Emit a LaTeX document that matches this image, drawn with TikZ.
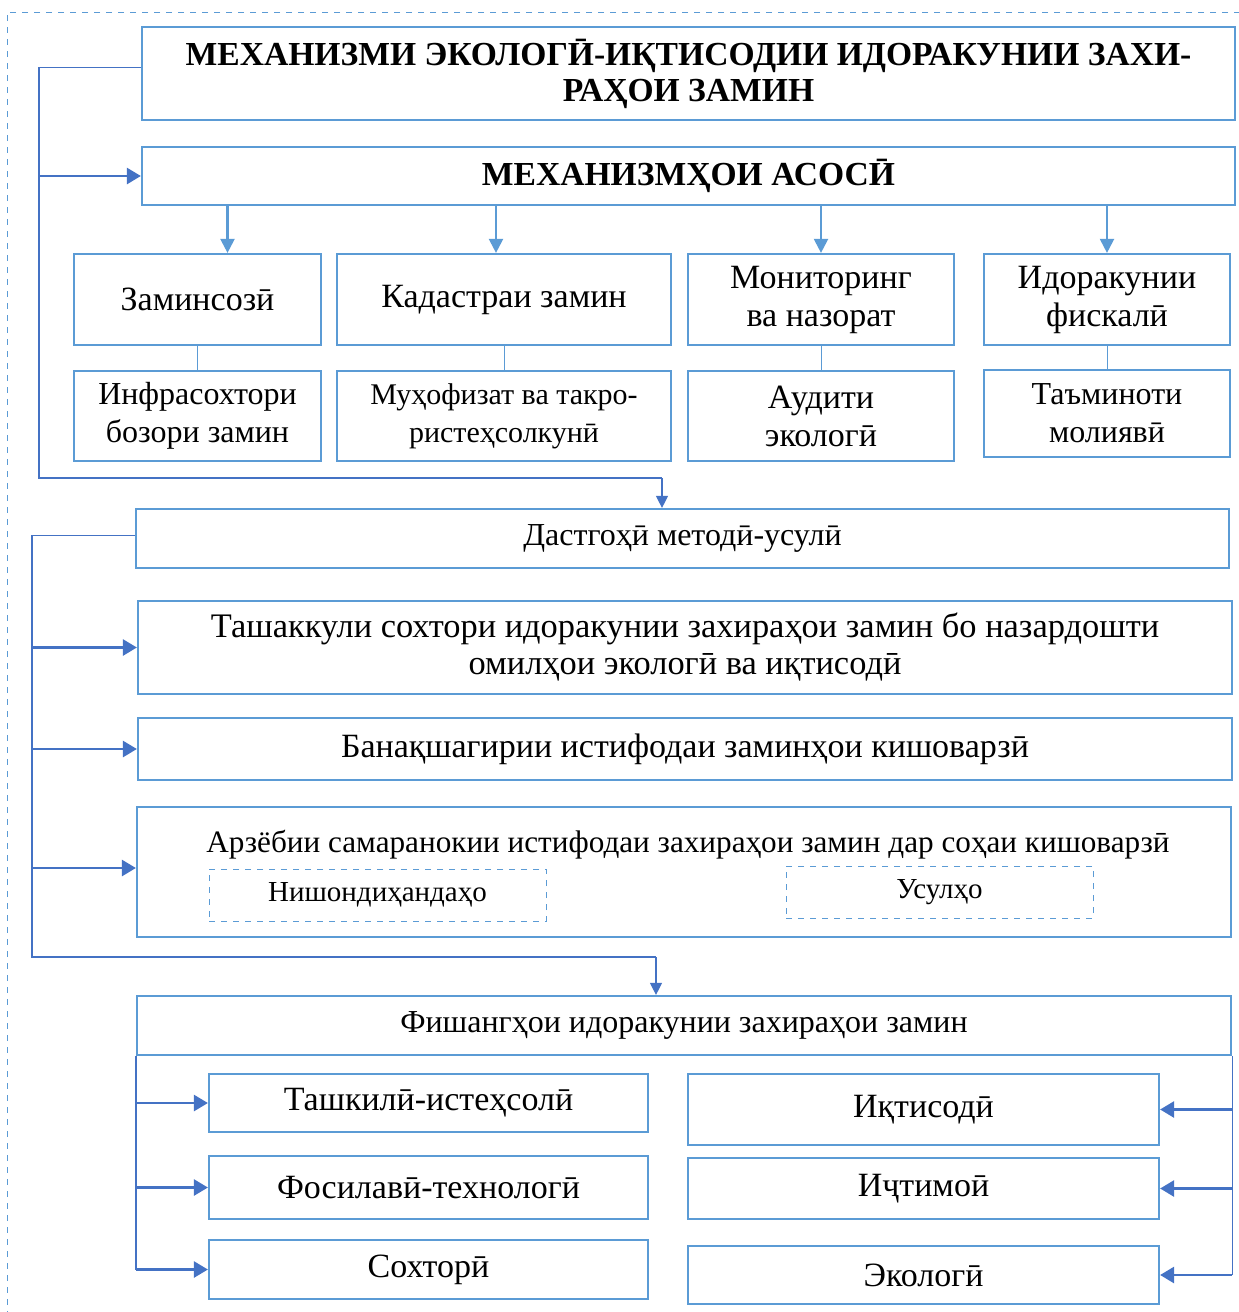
\documentclass[tikz,border=0pt]{standalone}
\usepackage{fontspec}
\setmainfont{Liberation Serif}
\usepackage{tikz}
\usetikzlibrary{arrows.meta, positioning, calc}
\definecolor{boxline}{RGB}{91, 155, 213}
\definecolor{linkblue}{RGB}{68, 114, 196}

\begin{document}
\begin{tikzpicture}[
    x=0.5pt, y=-0.5pt,
    box/.style={rectangle, draw=boxline, line width=1.1pt, fill=white, align=center, inner sep=2pt, font=\fontsize{17}{19}\selectfont},
    wide/.style={box, minimum width=547pt},
    subbox/.style={rectangle, draw=boxline, dashed, line width=0.5pt, align=center, font=\fontsize{14.5}{17}\selectfont},
    link/.style={draw=linkblue, line width=0.6pt},
    branch/.style={draw=linkblue, line width=1.3pt, -{Triangle[length=7pt, width=8pt]}},
    drop/.style={draw=linkblue, line width=0.6pt, -{Triangle[length=6pt, width=6pt]}},
    down/.style={draw=boxline, line width=1.1pt, -{Triangle[length=7pt, width=7pt]}},
    tie/.style={draw=boxline, line width=0.5pt}
]
\useasboundingbox (0,0) rectangle (1238,1312);

% outer dashed frame
\draw[boxline, dashed, line width=0.5pt] (1240,12) -- (7,12) -- (7,1314);

% title and basic mechanisms
\node[box, minimum width=546.5pt, minimum height=46.5pt, font=\fontsize{16.8}{18}\selectfont\bfseries] (title) at (688.5,73.5)
    {МЕХАНИЗМИ ЭКОЛОГӢ-ИҚТИСОДИИ ИДОРАКУНИИ ЗАХИ-\\РАҲОИ ЗАМИН};
\node[box, minimum width=546.5pt, minimum height=29pt, font=\fontsize{16.8}{18}\selectfont\bfseries] (mech) at (688.5,176)
    {МЕХАНИЗМҲОИ АСОСӢ};

% first row of mechanisms
\node[box, minimum width=123.5pt, minimum height=45.5pt] (land) at (197.5,299.5) {Заминсозӣ};
\node[box, minimum width=167pt, minimum height=45.5pt] (cadastre) at (504,299.5) {Кадастраи замин};
\node[box, minimum width=133pt, minimum height=45.5pt] (monitor) at (821,299.5) {Мониторинг\\ва назорат};
\node[box, minimum width=123pt, minimum height=45.5pt] (fiscal) at (1107,299.5) {Идоракунии\\фискалӣ};

% second row of mechanisms
\node[box, minimum width=123.5pt, minimum height=45pt, font=\fontsize{16}{19}\selectfont] (infra) at (197.5,416) {Инфрасохтори\\бозори замин};
\node[box, minimum width=167pt, minimum height=45pt, font=\fontsize{15}{19}\selectfont] (protect) at (504,416) {Муҳофизат ва такро-\\ристеҳсолкунӣ};
\node[box, minimum width=133pt, minimum height=45pt] (audit) at (821,416) {Аудити\\экологӣ};
\node[box, minimum width=123pt, minimum height=43.5pt, font=\fontsize{16}{19}\selectfont] (finance) at (1107,413.5) {Таъминоти\\молиявӣ};

% methodical tools
\node[box, minimum width=546.5pt, minimum height=29.5pt, font=\fontsize{16}{18}\selectfont] (tools) at (682.5,538.5) {Дастгоҳӣ методӣ-усулӣ};
\node[wide, minimum height=46.5pt, font=\fontsize{17.2}{18.5}\selectfont] (structure) at (685,647.5)
    {Ташаккули сохтори идоракунии захираҳои замин бо назардошти\\омилҳои экологӣ ва иқтисодӣ};
\node[wide, minimum height=31pt] (planning) at (685,749) {Банақшагирии истифодаи заминҳои кишоварзӣ};
\node[wide, minimum height=65pt] (assess) at (684,872) {};
\node[font=\fontsize{15.6}{18}\selectfont] (assesstext) at (688,845)
    {Арзёбии самаранокии истифодаи захираҳои замин дар соҳаи кишоварзӣ};
\node[subbox, minimum width=168.5pt, minimum height=26pt] (indic) at (377.5,895) {Нишондиҳандаҳо};
\node[subbox, minimum width=153.5pt, minimum height=26pt] (methods) at (939.5,892) {Усулҳо};

% management levers
\node[wide, minimum height=29.5pt, font=\fontsize{16}{18}\selectfont] (levers) at (684,1025.5) {Фишангҳои идоракунии захираҳои замин};
\node[box, minimum width=219.5pt, minimum height=29pt] (orgprod) at (428.5,1103) {Ташкилӣ-истеҳсолӣ};
\node[box, minimum width=219.5pt, minimum height=31.5pt] (techno) at (428.5,1187.5) {Фосилавӣ-технологӣ};
\node[box, minimum width=219.5pt, minimum height=29.5pt] (struct) at (428.5,1269.5) {Сохторӣ};
\node[box, minimum width=235.5pt, minimum height=35.5pt] (econ) at (923.5,1109.5) {Иқтисодӣ};
\node[box, minimum width=235.5pt, minimum height=30.5pt] (social) at (923.5,1188.5) {Иҷтимоӣ};
\node[box, minimum width=235.5pt, minimum height=29pt] (ecol) at (923.5,1275) {Экологӣ};

% bus lines
\coordinate (busA) at (39,478);
\coordinate (dropA) at (662,478);
\coordinate (busB) at (32,957);
\coordinate (dropB) at (656,957);

\draw[link] ([yshift=3pt]title.west) -| (busA) -- (dropA);
\draw[drop] (dropA) -- (dropA |- tools.north);
\draw[branch] (busA |- mech.west) -- (mech.west);

\draw[link] ([yshift=1.5pt]tools.west) -| (busB) -- (dropB);
\draw[drop] (dropB) -- (dropB |- levers.north);
\draw[branch] (busB |- structure.west) -- (structure.west);
\draw[branch] (busB |- planning.west) -- (planning.west);
\draw[branch] ([yshift=2pt]busB |- assess.west) -- ([yshift=2pt]assess.west);

% arrows from basic mechanisms
\draw[down] ([xshift=15pt]land.north |- mech.south) -- ([xshift=15pt]land.north);
\draw[down] ([xshift=-4pt]cadastre.north |- mech.south) -- ([xshift=-4pt]cadastre.north);
\draw[down] (monitor.north |- mech.south) -- (monitor.north);
\draw[down] (fiscal.north |- mech.south) -- (fiscal.north);

% ties between rows
\draw[tie] (land.south) -- (infra.north);
\draw[tie] (cadastre.south) -- (protect.north);
\draw[tie] (monitor.south) -- (audit.north);
\draw[tie] (fiscal.south) -- (finance.north);

% lever brackets
\draw[link] (levers.south west) -- (levers.south west |- struct.west);
\draw[branch] (levers.south west |- orgprod.west) -- (orgprod.west);
\draw[branch] (levers.south west |- techno.west) -- (techno.west);
\draw[branch] (levers.south west |- struct.west) -- (struct.west);
\draw[link] (levers.south east) -- (levers.south east |- ecol.east);
\draw[branch] (levers.south east |- econ.east) -- (econ.east);
\draw[branch] (levers.south east |- social.east) -- (social.east);
\draw[branch] (levers.south east |- ecol.east) -- (ecol.east);

\end{tikzpicture}
\end{document}
